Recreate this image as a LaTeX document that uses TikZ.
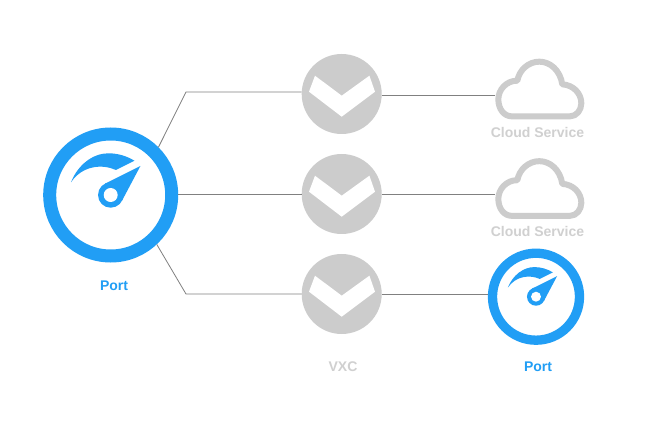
\documentclass[tikz,border=0pt]{standalone}
\usepackage{fontspec}
\setmainfont{Liberation Sans}
\definecolor{portblue}{HTML}{219EF5}
\definecolor{softgrey}{HTML}{CCCCCC}
\definecolor{labelgrey}{HTML}{D0D0D0}
\definecolor{wire}{HTML}{808080}
\tikzset{
  x=1pt,y=-1pt,
  wireline/.style={draw=wire,line width=0.8pt},
  bigring/.style={circle,draw=portblue,fill=white,line width=13pt,minimum size=122pt,inner sep=0pt},
  smallring/.style={circle,draw=portblue,fill=white,line width=9.3pt,minimum size=87pt,inner sep=0pt},
  vxcdisc/.style={circle,fill=softgrey,minimum size=80pt,inner sep=0pt,outer sep=0pt},
  cloudbox/.style={minimum width=88pt,minimum height=10pt,inner sep=0pt,outer sep=0pt},
  bluelabel/.style={font=\fontsize{14pt}{16pt}\selectfont\bfseries,text=portblue,inner sep=0pt},
  greylabel/.style={font=\fontsize{14pt}{16pt}\selectfont\bfseries,text=labelgrey,inner sep=0pt},
  gaugeicon/.pic={
    \fill[portblue] (-39.7,-12.7) .. controls (-33,-30) and (-18,-41.7) .. (-2.3,-41.7)
      .. controls (7,-41.7) and (16,-39) .. (23.7,-34.3) -- (5.3,-25)
      .. controls (-8,-31) and (-28,-30) .. cycle;
    \fill[portblue] (-5.6,-11.4) -- (29.7,-29) -- (11.2,5.9) -- cycle;
    \fill[portblue] (0,0) circle [radius=12.7];
    \fill[white] (0,0) circle [radius=7];
  },
  chevronicon/.pic={
    \fill[white] (-26.7,-18.3) -- (0,1.7) -- (27.7,-18.3) -- (33.3,-2.3) -- (0,22.7) -- (-32.7,-2.3) -- cycle;
  },
  cloudicon/.pic={
    \begin{scope}[x=0.3333pt,y=-0.3333pt]
    \draw[softgrey,line width=6pt,line join=round] (95,199) -- (270,199)
      .. controls (290,199) and (304,180) .. (304,160)
      .. controls (304,130) and (280,105) .. (247,103)
      .. controls (240,60) and (210,35) .. (178,35)
      .. controls (145,35) and (118,60) .. (112,92)
      .. controls (78,92) and (55,120) .. (55,148)
      .. controls (55,178) and (73,199) .. (95,199) -- cycle;
    \end{scope}
  }
}
\begin{document}
\begin{tikzpicture}
\useasboundingbox[fill=white] (0,0) rectangle (656,422);
\node[bigring] (port) at (110.7,195) {};
\node[smallring] (endport) at (536,296.7) {};
\node[vxcdisc] (vxc1) at (341.7,94) {};
\node[vxcdisc] (vxc2) at (341.7,194) {};
\node[vxcdisc] (vxc3) at (341.7,294) {};
\node[cloudbox] (cloud1) at (539,95) {};
\node[cloudbox] (cloud2) at (539,194.5) {};
\coordinate (bendup) at (186,92);
\coordinate (benddown) at (186,294);
\draw[wireline] (port.45) -- (bendup) -- (vxc1.west |- bendup);
\draw[wireline] (port.east |- vxc2) -- (vxc2);
\draw[wireline] (port.-47) -- (benddown) -- (vxc3);
\draw[wireline] (vxc1.east |- cloud1) -- (cloud1.west);
\draw[wireline] (vxc2.east |- cloud2) -- (cloud2.west);
\draw[wireline] (vxc3) -- (vxc3 -| endport.west);
\pic at (port) {gaugeicon};
\pic[scale=0.71] at (endport) {gaugeicon};
\pic at (vxc1) {chevronicon};
\pic at (vxc2) {chevronicon};
\pic at (vxc3) {chevronicon};
\pic at (480,50) {cloudicon};
\pic at (480,149.5) {cloudicon};
\node[bluelabel] (portlabel) at (114,286) {Port};
\node[bluelabel] (endportlabel) at (538,367) {Port};
\node[greylabel] (cloudlabel1) at (537.5,132) {Cloud Service};
\node[greylabel] (cloudlabel2) at (537.5,231) {Cloud Service};
\node[greylabel] (vxclabel) at (343,367) {VXC};
\end{tikzpicture}
\end{document}
